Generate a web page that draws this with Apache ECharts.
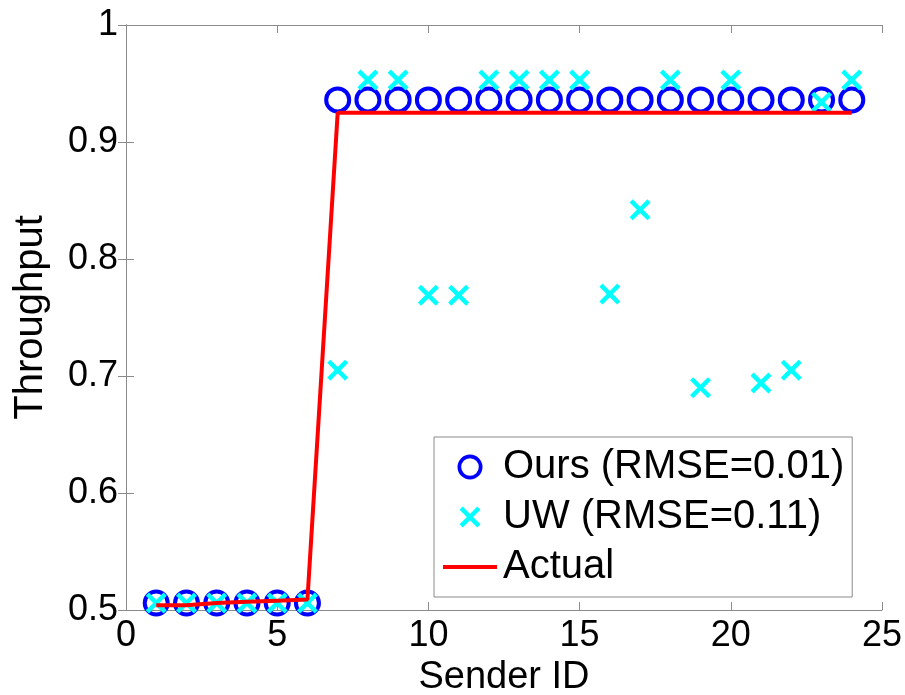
<!DOCTYPE html>
<html>
<head>
<meta charset="utf-8">
<script src="https://cdn.jsdelivr.net/npm/echarts@6/dist/echarts.min.js"></script>
<style>html,body{margin:0;padding:0;background:#fff}#c{width:905px;height:695px}</style>
</head>
<body>
<div id="c"></div>
<script>
const senderIds = [1,2,3,4,5,6,7,8,9,10,11,12,13,14,15,16,17,18,19,20,21,22,23,24];
const oursValues = [0.506,0.506,0.506,0.506,0.506,0.506,0.936,0.936,0.936,0.936,0.936,0.936,0.936,0.936,0.936,0.936,0.936,0.936,0.936,0.936,0.936,0.936,0.936,0.936];
const uwValues = [0.506,0.506,0.506,0.506,0.506,0.506,0.705,0.953,0.953,0.769,0.769,0.953,0.953,0.953,0.953,0.770,0.842,0.953,0.690,0.953,0.694,0.705,0.934,0.953];
const actualValues = [0.504,0.504,0.506,0.507,0.508,0.509,0.925,0.925,0.925,0.925,0.925,0.925,0.925,0.925,0.925,0.925,0.925,0.925,0.925,0.925,0.925,0.925,0.925,0.925];
const seriesNames = ['Ours (RMSE=0.01)', 'UW (RMSE=0.11)', 'Actual'];
const xTicks = {min: 0, max: 25, interval: 5};
const yTicks = {min: 0.5, max: 1, interval: 0.1};

const font = '"Liberation Sans", Arial, Helvetica, sans-serif';
const axisGray = '#8a8a8a';
const crossPath = 'path://M0,1.5L1.5,0L5,3.5L8.5,0L10,1.5L6.5,5L10,8.5L8.5,10L5,6.5L1.5,10L0,8.5L3.5,5Z';
const crossLegendPath = 'path://M-1,-1M11,11M0,1.5L1.5,0L5,3.5L8.5,0L10,1.5L6.5,5L10,8.5L8.5,10L5,6.5L1.5,10L0,8.5L3.5,5Z';
const ringPath = 'path://M0,13.5A13.5,13.5 0 1,0 27,13.5A13.5,13.5 0 1,0 0,13.5ZM4,13.5A9.5,9.5 0 1,1 23,13.5A9.5,9.5 0 1,1 4,13.5Z';
const pairs = (ys) => senderIds.map((x, i) => [x, ys[i]]);

const chart = echarts.init(document.getElementById('c'), null, {renderer: 'canvas'});
const baseAxis = {
  axisLine: {show: true, lineStyle: {color: axisGray, width: 1}},
  axisTick: {show: true, inside: true, length: 8, lineStyle: {color: axisGray}},
  splitLine: {show: false}
};
chart.setOption({
  animation: false,
  backgroundColor: '#fff',
  grid: {left: 126, right: 23, top: 25, bottom: 85, containLabel: false, outerBoundsMode: 'none'},
  xAxis: [
    Object.assign({}, baseAxis, {
      type: 'value', position: 'bottom', min: xTicks.min, max: xTicks.max, interval: xTicks.interval,
      name: 'Sender ID', nameLocation: 'middle', nameGap: 47,
      nameTextStyle: {fontFamily: font, fontSize: 38, color: '#000'},
      axisLabel: {fontFamily: font, fontSize: 36, color: '#000', margin: 8}
    }),
    Object.assign({}, baseAxis, {
      type: 'value', position: 'top', min: xTicks.min, max: xTicks.max, interval: xTicks.interval,
      axisLabel: {show: false}
    })
  ],
  yAxis: [
    Object.assign({}, baseAxis, {
      type: 'value', position: 'left', min: yTicks.min, max: yTicks.max, interval: yTicks.interval,
      name: 'Throughput', nameLocation: 'middle', nameGap: 75, nameRotate: 90,
      nameTextStyle: {fontFamily: font, fontSize: 40, color: '#000'},
      axisLabel: {fontFamily: font, fontSize: 36, color: '#000', margin: 8,
        formatter: v => String(Math.round(v * 10) / 10)}
    }),
    Object.assign({}, baseAxis, {
      type: 'value', position: 'right', min: yTicks.min, max: yTicks.max, interval: yTicks.interval,
      axisLabel: {show: false}
    })
  ],
  legend: {
    orient: 'vertical',
    left: 434, top: 437,
    padding: [10, 8, 10, 9],
    itemGap: 10,
    itemWidth: 54, itemHeight: 25,
    backgroundColor: '#fff',
    borderColor: axisGray, borderWidth: 1,
    textStyle: {fontFamily: font, fontSize: 40, color: '#000', lineHeight: 40, padding: [0, 0, 0, 1]},
    data: [
      {name: seriesNames[0], icon: ringPath, itemStyle: {color: '#0000ff', borderWidth: 0, opacity: 1}},
      {name: seriesNames[1], icon: crossLegendPath, itemStyle: {color: '#00ffff', borderWidth: 0, opacity: 1}},
      {name: seriesNames[2], icon: 'path://M0,0L54,0L54,4L0,4Z', itemStyle: {color: '#ff0000', borderWidth: 0, opacity: 1}}
    ]
  },
  series: [
    {
      name: seriesNames[0], type: 'scatter', xAxisIndex: 0, yAxisIndex: 0,
      symbol: ringPath, symbolSize: 27,
      itemStyle: {color: '#0000ff', opacity: 1},
      data: pairs(oursValues), z: 2
    },
    {
      name: seriesNames[1], type: 'scatter', xAxisIndex: 0, yAxisIndex: 0,
      symbol: crossPath, symbolSize: 21,
      itemStyle: {color: '#00ffff', opacity: 1},
      data: pairs(uwValues), z: 3
    },
    {
      name: seriesNames[2], type: 'line', xAxisIndex: 0, yAxisIndex: 0,
      symbol: 'none', showSymbol: false,
      lineStyle: {color: '#ff0000', width: 4},
      itemStyle: {color: '#ff0000'},
      data: pairs(actualValues), z: 4
    }
  ]
});
</script>
</body>
</html>
